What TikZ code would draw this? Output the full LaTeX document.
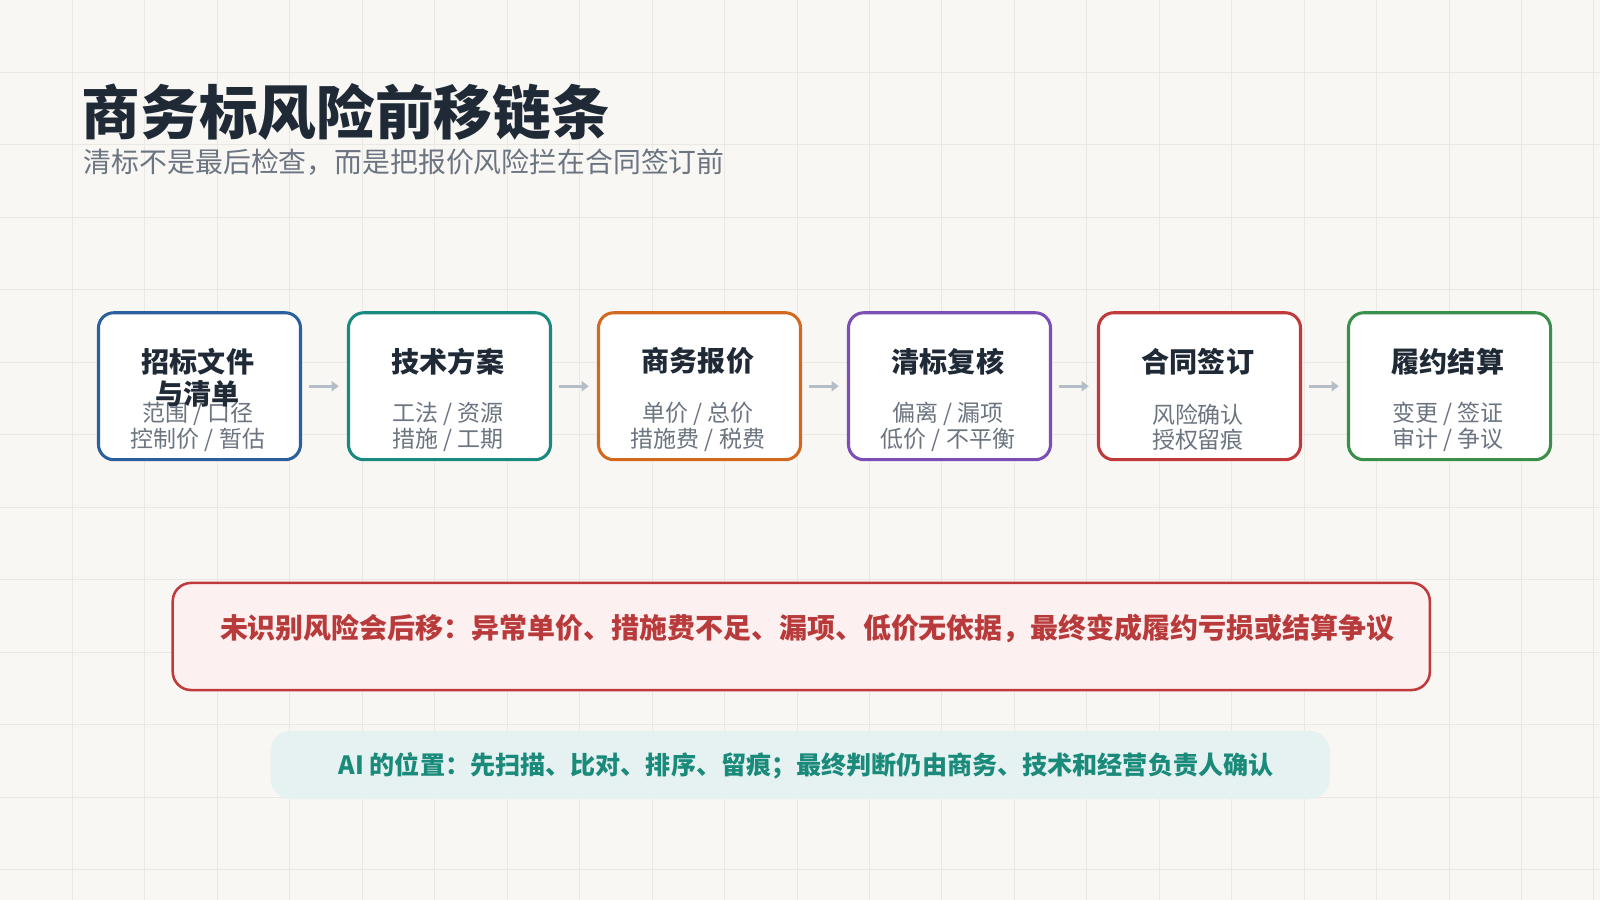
\documentclass[tikz,border=0pt]{standalone}
\usepackage{fontspec}
\setmainfont{Noto Sans CJK SC}
\usetikzlibrary{arrows.meta}
\definecolor{bg}{HTML}{F8F7F3}
\definecolor{gridc}{HTML}{E9E8E2}
\definecolor{ttl}{HTML}{1F2A36}
\definecolor{sub}{HTML}{6B7480}
\definecolor{cA}{HTML}{2C5F9E}
\definecolor{cB}{HTML}{1A8A80}
\definecolor{cC}{HTML}{D2691E}
\definecolor{cD}{HTML}{7B4FB5}
\definecolor{cE}{HTML}{C0393B}
\definecolor{cF}{HTML}{3A8F4A}
\definecolor{arr}{HTML}{B5BDC6}
\definecolor{redfill}{HTML}{FDF0F0}
\definecolor{redtxt}{HTML}{B83A3A}
\definecolor{tealfill}{HTML}{E6F2F1}
\definecolor{tealtxt}{HTML}{1A8A7A}
\begin{document}
\begin{tikzpicture}[x=1pt,y=-1pt,
  step/.style={draw=#1,line width=3pt,rounded corners=15pt,fill=white,minimum width=198pt,minimum height=144pt,anchor=north west},
  ttlx/.style={font=\fontsize{27.5}{32}\selectfont\bfseries,text=ttl},
  subx/.style={font=\fontsize{22.5}{25}\selectfont,text=sub,align=center},
  conn/.style={draw=arr,line width=2.5pt,-{Triangle[length=7pt,width=10pt]}}]
\useasboundingbox (0,0) rectangle (1568,882);
\fill[bg] (0,0) rectangle (1568,882);
\foreach \i in {1,...,22} \draw[gridc,line width=0.8pt] (\i*71,0) -- (\i*71,882);
\foreach \j in {1,...,12} \draw[gridc,line width=0.8pt] (0,\j*71) -- (1568,\j*71);
\node[anchor=west,font=\fontsize{57.5}{62}\selectfont\bfseries,text=ttl,inner sep=0] (title) at (80,110) {商务标风险前移链条};
\node[anchor=west,font=\fontsize{27.3}{30}\selectfont,text=sub,inner sep=0] (subt) at (82,159) {清标不是最后检查，而是把报价风险拦在合同签订前};
\foreach \n/\x/\c/\t/\a/\b in {s1/95/cA/{}/{范围 / 口径}/{控制价 / 暂估},s2/340/cB/技术方案/{工法 / 资源}/{措施 / 工期},s3/585/cC/商务报价/{单价 / 总价}/{措施费 / 税费},s4/830/cD/清标复核/{偏离 / 漏项}/{低价 / 不平衡},s5/1075/cE/合同签订/{风险确认}/{授权留痕},s6/1320/cF/履约结算/{变更 / 签证}/{审计 / 争议}}{
  \node[step=\c] (\n) at (\x,305) {};
  \node[ttlx] (\n t) at (\x+99,354) {\t};
  \node[subx] (\n a) at (\x+99,406) {\a};
  \node[subx] (\n b) at (\x+99,431) {\b};
}
\node[ttlx] (s1t1) at (194,354) {招标文件};
\node[ttlx] (s1t2) at (194,386) {与清单};
\foreach \p/\q in {s1/s2,s2/s3,s3/s4,s4/s5,s5/s6}
  \draw[conn] ([xshift=7pt]\p.east) -- ([xshift=-8pt]\q.west);
\node[draw=cE,line width=2.5pt,fill=redfill,rounded corners=18pt,minimum width=1232pt,minimum height=105pt,anchor=north west] (risk) at (168,570) {};
\node[font=\fontsize{27.4}{30}\selectfont\bfseries,text=redtxt] (riskt) at (791,616) {未识别风险会后移：异常单价、措施费不足、漏项、低价无依据，最终变成履约亏损或结算争议};
\node[fill=tealfill,rounded corners=20pt,minimum width=1038pt,minimum height=67pt,anchor=north west] (ai) at (265,716) {};
\node[font=\fontsize{24.6}{28}\selectfont\bfseries,text=tealtxt] (ait) at (790,751) {AI 的位置：先扫描、比对、排序、留痕；最终判断仍由商务、技术和经营负责人确认};
\end{tikzpicture}
\end{document}
